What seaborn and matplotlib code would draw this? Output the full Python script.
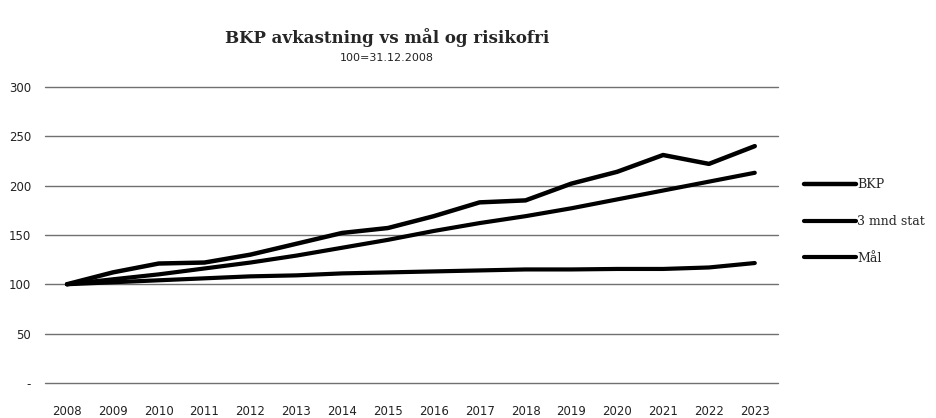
import pandas as pd
import seaborn as sns
from matplotlib import pyplot as plt

years = list(range(2008, 2024))
bkp = [100, 112, 121, 122, 130, 141, 152, 157, 169, 183, 185, 202, 214, 231, 222, 240]
stat_3mnd = [100, 102, 104, 106, 108, 109, 111, 112, 113, 114, 115, 115, 115.5, 115.5, 117, 121.5]
maal = [100, 105, 110, 116, 122, 129, 137, 145, 154, 162, 169, 177, 186, 195, 204, 213]
series_names = ["BKP", "3 mnd stat", "Mål"]
y_ticks = [0, 50, 100, 150, 200, 250, 300]
y_tick_labels = ["-", "50", "100", "150", "200", "250", "300"]

df = pd.DataFrame({"year": years, "BKP": bkp, "3 mnd stat": stat_3mnd, "Mål": maal})
df = df.melt(id_vars="year", var_name="serie", value_name="value")
df["pos"] = df["year"] - years[0]

sns.set_style("white")
plt.rcParams["font.family"] = ["DejaVu Sans"]

fig = plt.figure(figsize=(9.37, 4.18), dpi=100)
ax = fig.add_axes([0.048, 0.084, 0.782, 0.708])

sns.lineplot(data=df, x="pos", y="value", hue="serie", hue_order=series_names,
             palette=["black"] * 3, size="serie", sizes={"BKP": 3.2, "3 mnd stat": 3.0, "Mål": 3.0},
             size_order=series_names, ax=ax, solid_capstyle="round")

ax.set_xlim(-0.48, 15.5)
ax.set_ylim(0, 300)
ax.set_yticks(y_ticks)
ax.set_yticklabels(y_tick_labels, fontsize=8.5, color="#222222")
ax.set_xticks(range(len(years)))
ax.set_xticklabels([str(y) for y in years], fontsize=8.5, color="#222222")
ax.tick_params(length=0, pad=10)
ax.tick_params(axis="x", pad=16)
ax.grid(axis="y", color="#707070", linewidth=1)
for gl in ax.get_ygridlines():
    gl.set_clip_on(False)
ax.set_axisbelow(True)
for s in ax.spines.values():
    s.set_visible(False)
ax.set_xlabel("")
ax.set_ylabel("")

handles, labels = ax.get_legend_handles_labels()
ax.legend(handles, labels, loc="center left", bbox_to_anchor=(1.02, 0.545),
          frameon=False, handlelength=4.2, labelspacing=1.9, handletextpad=0.1,
          prop={"family": "DejaVu Serif", "size": 9})

fig.text(0.413, 0.897, "BKP avkastning vs mål og risikofri", ha="center",
         fontsize=12, fontweight="bold", family="DejaVu Serif")
fig.text(0.413, 0.855, "100=31.12.2008", ha="center", fontsize=8, color="#222222")

plt.savefig("out.png", dpi=100)
